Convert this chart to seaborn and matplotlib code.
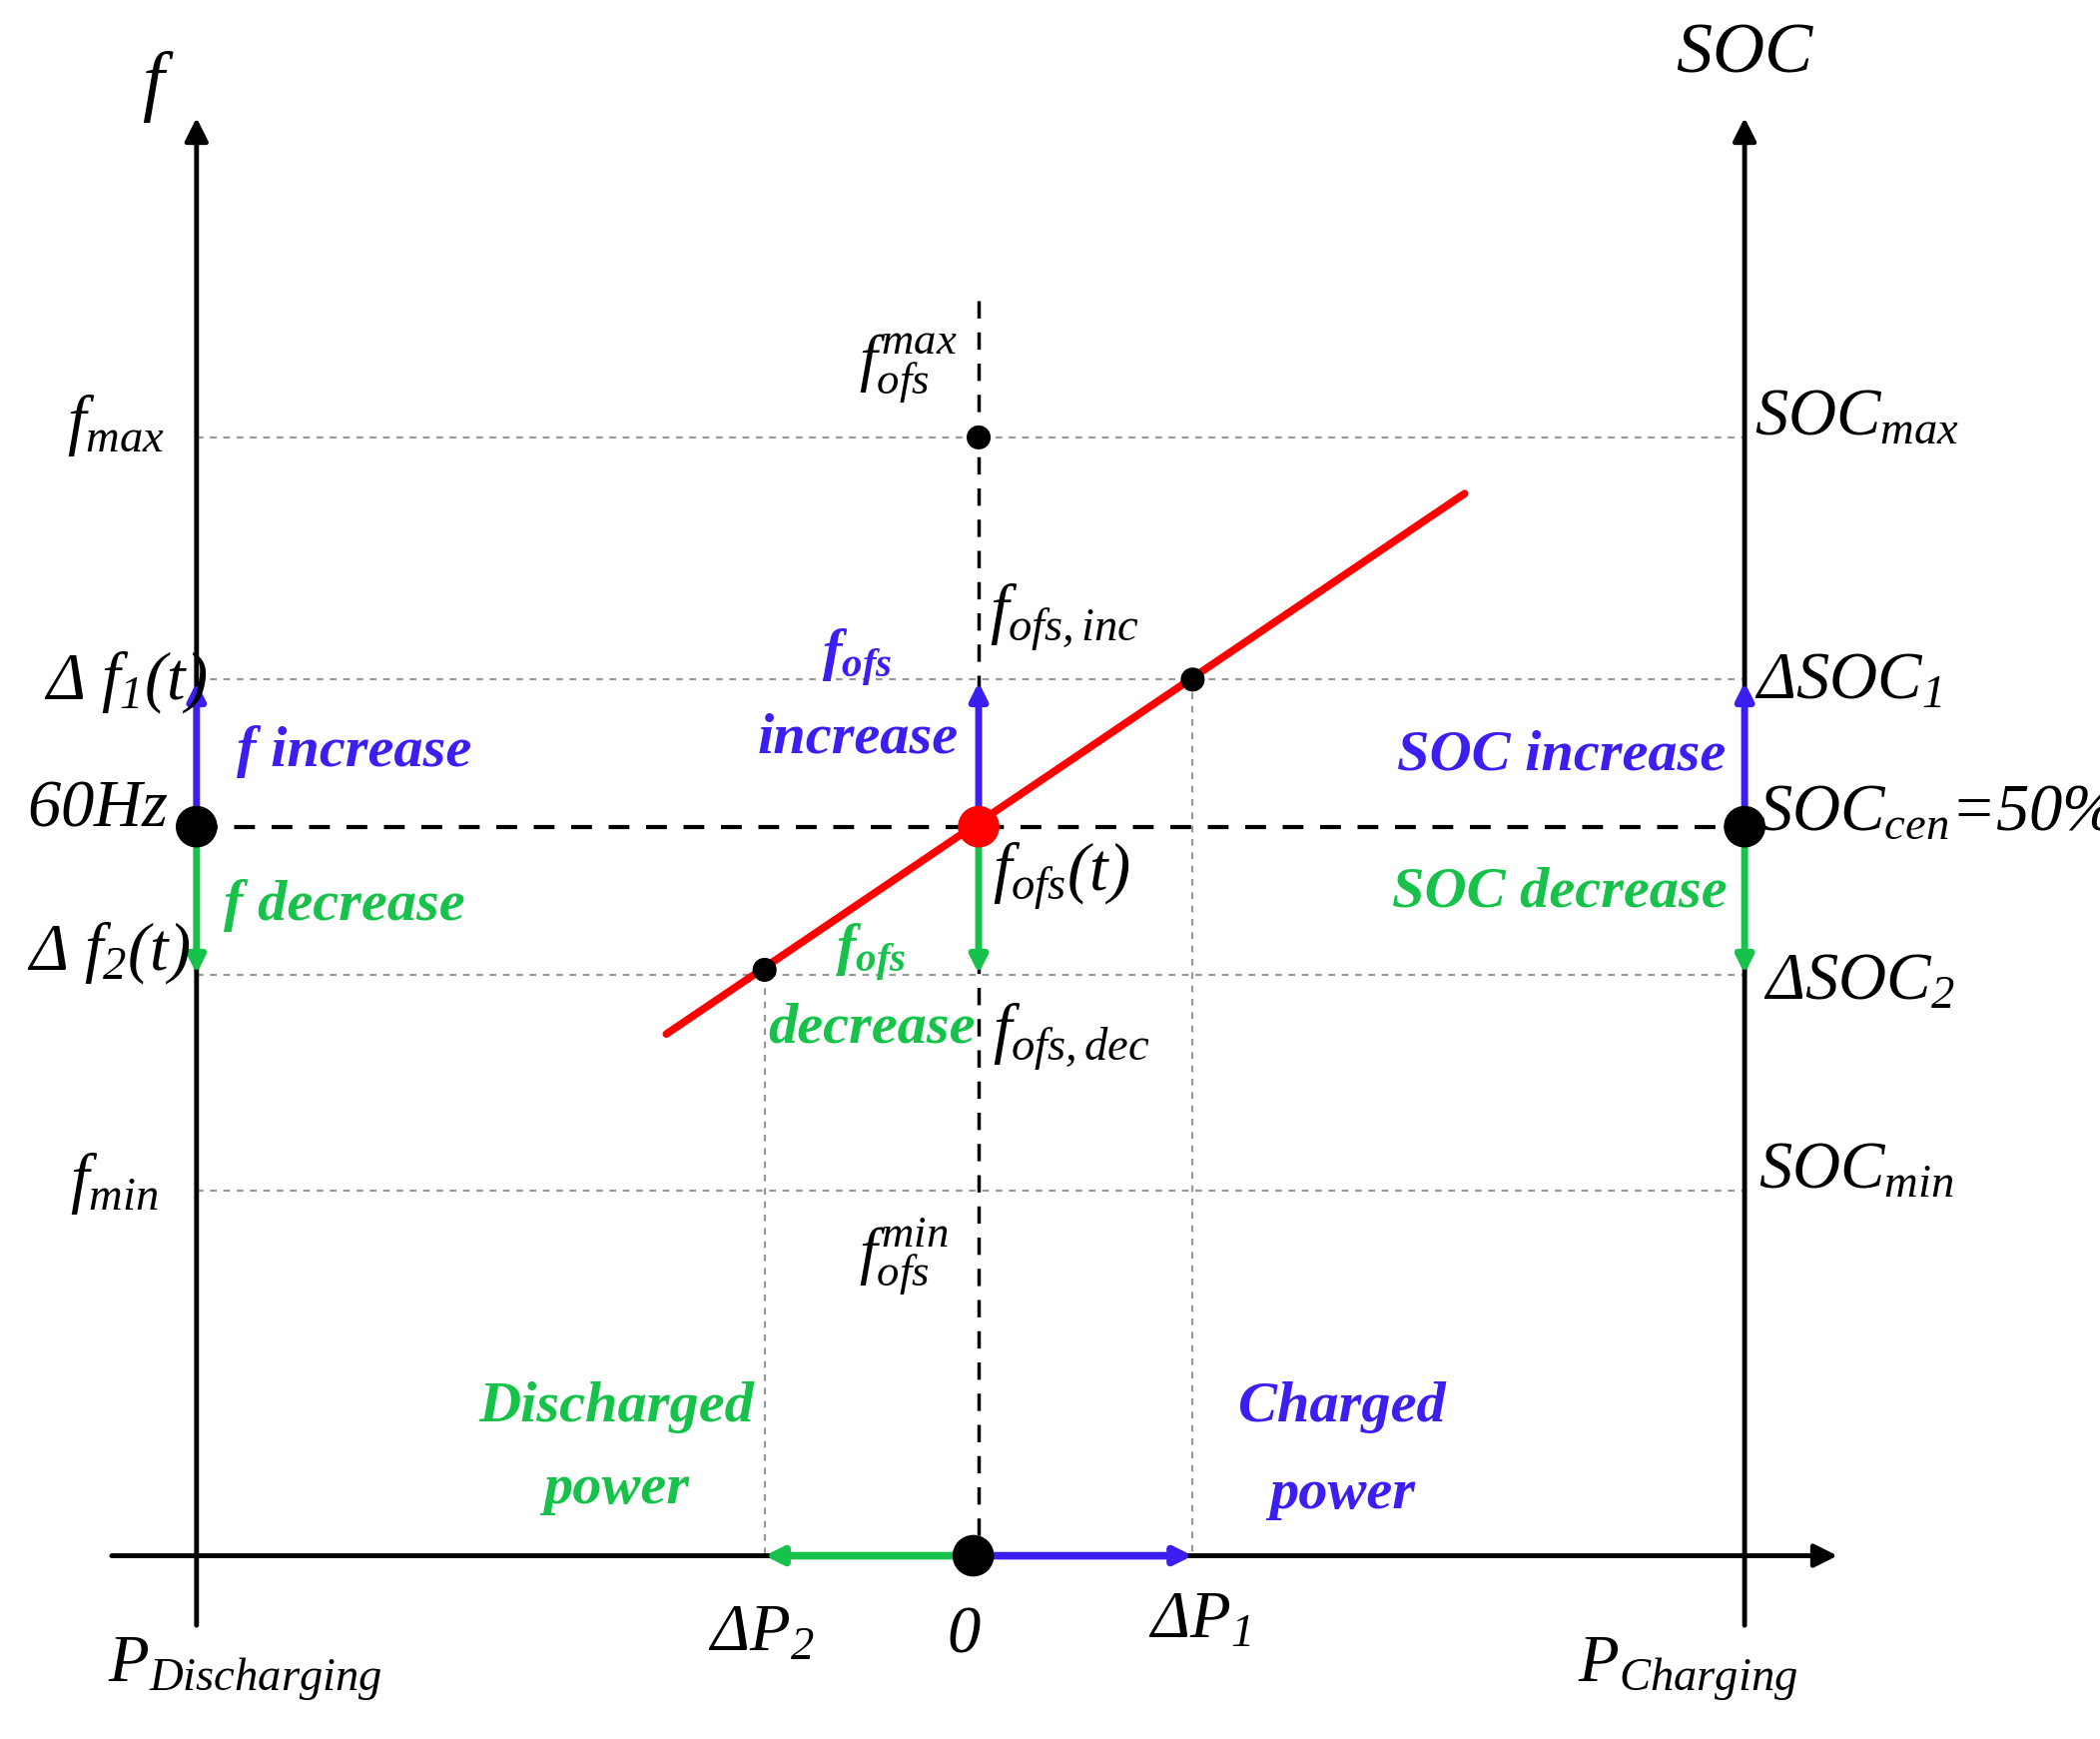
import matplotlib
matplotlib.use("Agg")
import matplotlib.pyplot as plt
import seaborn as sns

sns.set_style("white")
plt.rcParams['font.family'] = ['Liberation Serif', 'DejaVu Serif']
plt.rcParams['mathtext.fontset'] = 'custom'
plt.rcParams['mathtext.it'] = 'Liberation Serif:italic'
plt.rcParams['mathtext.rm'] = 'Liberation Serif:italic'
plt.rcParams['mathtext.bf'] = 'Liberation Serif:italic:bold'

# schematic positions (diagram units, y grows downward)
x_left, x_right, x_zero = 146, 1296, 727
x_dp2, x_dp1 = 568, 886
y_axis = 1163
y_fmax, y_df1, y_cen, y_df2, y_fmin = 327, 508, 618, 729, 890
red_x = [495, 1088]
red_y = [773, 369]
pts_small_x = [727, 886, 568]
pts_small_y = [327, 508, 725]
pts_big_x = [146, 1296, 723]
pts_big_y = [618, 618, 1163]

BLUE, GREEN, RED = "#3a1ff0", "#16c24a", "#ff0000"

fig = plt.figure(figsize=(21.03, 17.41), dpi=100)
ax = fig.add_axes([0, 0, 1, 1])
ax.set_xlim(0, 1560)
ax.set_ylim(1300, 0)
ax.axis("off")

for y in [y_fmax, y_df1, y_df2, y_fmin]:
    ax.plot([x_left, x_right], [y, y], ls=(0, (3, 3)), color="#999999", lw=1.6)
ax.plot([x_dp2, x_dp2], [y_df2, y_axis], ls=(0, (3, 3)), color="#999999", lw=1.6)
ax.plot([x_dp1, x_dp1], [y_df1, y_axis], ls=(0, (3, 3)), color="#999999", lw=1.6)
ax.plot([x_left, x_right], [y_cen, y_cen], ls=(0, (5, 4)), color="black", lw=3)
ax.plot([x_zero, x_zero], [225, y_axis], ls=(0, (5, 4)), color="black", lw=2.5)

def arrow(x0, y0, x1, y1, c, lw=3, hw=0.6):
    ax.annotate("", xy=(x1, y1), xytext=(x0, y0),
                arrowprops=dict(arrowstyle=f"-|>,head_width={hw},head_length={hw*2}",
                                color=c, lw=lw, shrinkA=0, shrinkB=0))

arrow(x_left, 1215, x_left, 88, "black", 3.5, 0.7)
arrow(x_right, 1215, x_right, 88, "black", 3.5, 0.7)
arrow(83, y_axis, 1365, y_axis, "black", 3.5, 0.7)

sns.lineplot(x=red_x, y=red_y, color=RED, lw=5.5, ax=ax)

for xx in [x_left, x_zero, x_right]:
    arrow(xx, y_cen, xx, 510, BLUE, 5, 0.5)
    arrow(xx, y_cen, xx, 728, GREEN, 5, 0.5)
arrow(x_zero, y_axis, x_dp2, y_axis, GREEN, 5.5, 0.5)
arrow(x_zero, y_axis, x_dp1, y_axis, BLUE, 5.5, 0.5)

sns.scatterplot(x=pts_small_x, y=pts_small_y, color="black", s=300, ax=ax, zorder=5, edgecolor="none")
sns.scatterplot(x=pts_big_x, y=pts_big_y, color="black", s=900, ax=ax, zorder=5, edgecolor="none")
sns.scatterplot(x=[x_zero], y=[y_cen], color=RED, s=900, ax=ax, zorder=6, edgecolor="none")

fs = 48
def t(x, y, s, c="black", size=fs, ha="left", **kw):
    ax.text(x, y, s, color=c, fontsize=size, ha=ha, va="center", **kw)

t(105, 65, r"$f$", size=56)
t(1245, 40, r"$SOC$", size=52)
t(50, 318, r"$f_{max}$")
t(33, 510, r"$\Delta\ f_1(t)$")
t(20, 605, r"$60Hz$")
t(20, 712, r"$\Delta\ f_2(t)$")
t(52, 885, r"$f_{min}$")
t(1303, 312, r"$SOC_{max}$")
t(1303, 510, r"$\Delta SOC_1$")
t(1306, 608, r"$SOC_{cen}$=50%", style="italic")
t(1310, 735, r"$\Delta SOC_2$")
t(1306, 876, r"$SOC_{min}$")
t(638, 275, r"$f^{max}_{ofs}$", size=46)
t(638, 940, r"$f^{min}_{ofs}$", size=46)
t(735, 462, r"$f_{ofs,inc}$")
t(737, 655, r"$f_{ofs}(t)$")
t(737, 775, r"$f_{ofs,dec}$")
t(80, 1248, r"$P_{Discharging}$")
t(1172, 1248, r"$P_{Charging}$")
t(526, 1222, r"$\Delta P_2$")
t(703, 1222, r"$0$")
t(853, 1212, r"$\Delta P_1$")

bk = dict(fontweight="bold", style="italic")
fb = 42
t(176, 562, "f increase", BLUE, fb, **bk)
t(166, 677, "f decrease", GREEN, fb, **bk)
t(1038, 565, "SOC increase", BLUE, fb, **bk)
t(1034, 667, "SOC decrease", GREEN, fb, **bk)
t(637, 492, r"$\mathbf{f_{ofs}}$", BLUE, fb, ha="center")
t(637, 552, "increase", BLUE, fb, ha="center", **bk)
t(647, 712, r"$\mathbf{f_{ofs}}$", GREEN, fb, ha="center")
t(648, 769, "decrease", GREEN, fb, ha="center", **bk)
t(458, 1052, "Discharged", GREEN, fb, ha="center", **bk)
t(458, 1113, "power", GREEN, fb, ha="center", **bk)
t(997, 1052, "Charged", BLUE, fb, ha="center", **bk)
t(997, 1117, "power", BLUE, fb, ha="center", **bk)

fig.savefig("out.png", dpi=100)
